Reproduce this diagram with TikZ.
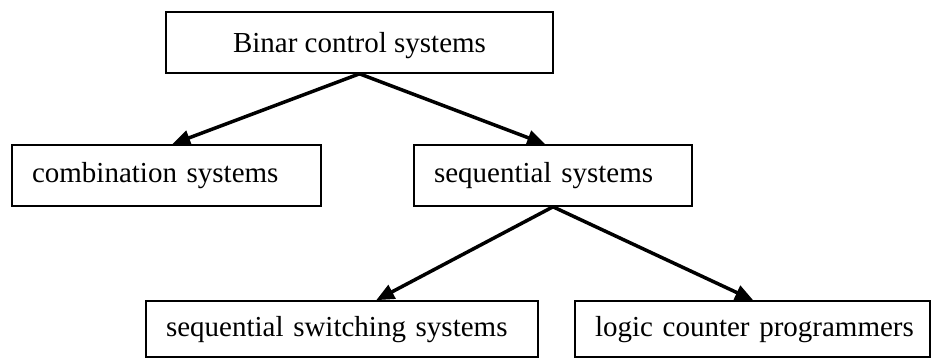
\documentclass[tikz,border=0pt]{standalone}
\usepackage{fontspec}
\setmainfont{Liberation Serif}
\usetikzlibrary{arrows.meta}
\begin{document}
\begin{tikzpicture}[x=1pt,y=-1pt,
  box/.style={draw=black, line width=1.6pt, rectangle,
    font=\fontsize{29}{34}\selectfont, inner ysep=0pt,
    text height=20pt, text depth=6pt},
  lbox/.style={box, inner xsep=20pt, align=left},
  link/.style={line width=3.5pt, -{Triangle[length=18pt,width=15pt]}}]
\useasboundingbox (0,0) rectangle (937,358);

% classification boxes
\node[box, minimum width=387pt, minimum height=61pt,
      text height=24pt, text depth=3pt] (top) at (359.5,42.5) {Binar control systems};
\node[lbox, text width=269pt, minimum height=61pt] (comb) at (166.5,175.5) {\mbox{combination systems}};
\node[lbox, text width=238pt, minimum height=61pt] (seq) at (553,175.5) {\mbox{sequential systems}};
\node[lbox, text width=352pt, minimum height=56pt] (ssw) at (342,329) {\mbox{sequential switching systems}};
\node[lbox, text width=315pt, minimum height=56pt] (lcp) at (752.5,329) {\mbox{logic counter programmers}};

% hierarchy links
\draw[link] (top.south) -- ([xshift=161pt]comb.north west);
\draw[link] (top.south) -- ([xshift=132pt]seq.north west);
\draw[link] (seq.south) -- ([xshift=231pt]ssw.north west);
\draw[link] (seq.south) -- ([xshift=179pt]lcp.north west);
\end{tikzpicture}
\end{document}
